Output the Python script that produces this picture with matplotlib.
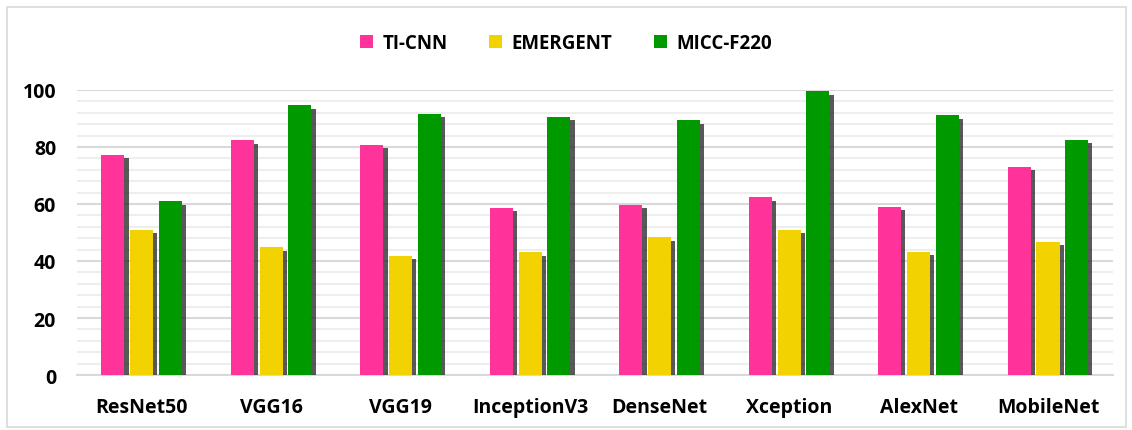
import matplotlib.pyplot as plt
import matplotlib.patheffects as pe
from matplotlib.patches import Rectangle
import numpy as np

models = ["ResNet50", "VGG16", "VGG19", "InceptionV3", "DenseNet", "Xception", "AlexNet", "MobileNet"]
ti_cnn = [77.2, 82.3, 80.7, 58.6, 59.8, 62.4, 59.0, 73.0]
emergent = [50.9, 44.8, 41.8, 43.0, 48.4, 50.9, 43.3, 46.7]
micc_f220 = [61.0, 94.7, 91.6, 90.6, 89.3, 99.6, 91.2, 82.5]

series = [("TI-CNN", ti_cnn, "#FF3399"),
          ("EMERGENT", emergent, "#F2D200"),
          ("MICC-F220", micc_f220, "#009900")]

plt.rcParams['font.family'] = ['Open Sans', 'DejaVu Sans']

fig = plt.figure(figsize=(11.32, 4.31), dpi=100)
ax = fig.add_axes([0.068, 0.1276, 0.915, 0.6613])

# outer chart border
fig.patches.append(Rectangle((0.006, 0.008), 0.989, 0.974, transform=fig.transFigure,
                             fill=False, edgecolor="#D9D9D9", linewidth=1.2))

x = np.arange(len(models))
width = 0.178
step = 0.222
shadow = [pe.SimplePatchShadow(offset=(3, -2.5), shadow_rgbFace="#222222", alpha=0.75), pe.Normal()]
for i, (name, vals, col) in enumerate(series):
    bars = ax.bar(x + (i - 1) * step, vals, width, color=col, label=name, zorder=3)
    for b in bars:
        b.set_path_effects(shadow)

ax.set_xlim(-0.5, len(models) - 0.5)
ax.set_ylim(0, 100)
ax.set_yticks(range(0, 101, 20))
ax.set_yticks(range(0, 101, 4), minor=True)
ax.grid(axis="y", which="major", color="#D9D9D9", linewidth=1.5, zorder=0)
ax.grid(axis="y", which="minor", color="#EEEEEE", linewidth=1.5, zorder=0)
ax.set_axisbelow(True)
for s in ["top", "right", "left"]:
    ax.spines[s].set_visible(False)
ax.spines["bottom"].set_color("#D9D9D9")
ax.spines["bottom"].set_linewidth(1.5)

ax.set_xticks(x)
ax.set_xticklabels(models, fontsize=14, fontweight="bold")
ax.tick_params(axis="x", length=0, pad=16)
ax.tick_params(axis="y", which="both", length=0, labelsize=14, pad=15)
for t in ax.get_yticklabels():
    t.set_fontweight("bold")

leg = fig.legend(loc="center", bbox_to_anchor=(0.5, 0.898), ncol=3, frameon=False,
                 prop={"size": 13.5, "weight": "bold"}, handlelength=0.7, handleheight=0.7,
                 columnspacing=2.2, handletextpad=0.5)
for h in leg.legend_handles:
    h.set_path_effects([])

fig.savefig("out.png", dpi=100)
